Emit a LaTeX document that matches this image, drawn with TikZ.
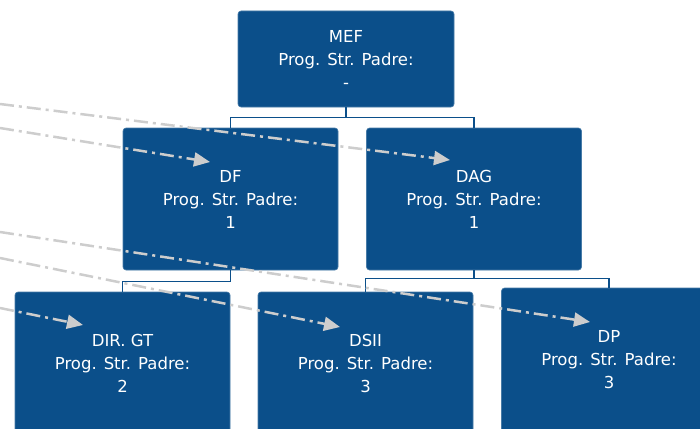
\documentclass[tikz,border=0pt]{standalone}
\usepackage{fontspec}
\setmainfont{DejaVu Sans}
\usetikzlibrary{arrows.meta}
\definecolor{boxblue}{RGB}{11,79,138}
\definecolor{linkgray}{RGB}{205,205,205}

\begin{document}
\begin{tikzpicture}[x=1pt,y=-1pt]

\tikzstyle{orgbox}=[shape=rectangle, rounded corners=3pt,
    draw=boxblue!75!white, line width=0.6pt, fill=boxblue,
    text=white, align=center, inner sep=0pt,
    minimum width=215pt, minimum height=142pt,
    font=\fontsize{16.5}{23}\selectfont]
\tikzstyle{tree}=[draw=boxblue, line width=1.5pt]
\tikzstyle{link}=[draw=linkgray, line width=2.5pt,
    dash pattern=on 14pt off 5pt on 3pt off 5pt,
    -{Triangle[length=16pt,width=14pt]}]

\useasboundingbox (0,0) rectangle (700,428);
\clip (0,0) rectangle (700,428);

  \node[orgbox, minimum width=216pt, minimum height=96pt] (MEF) at (346,59) {MEF\\Prog. Str. Padre:\\-};

  \node[orgbox] (DF) at (230.5,199) {DF\\Prog. Str. Padre:\\1};
  \node[orgbox] (DAG) at (474,199) {DAG\\Prog. Str. Padre:\\1};

  \node[orgbox] (DIRGT) at (122.5,363) {DIR. GT\\Prog. Str. Padre:\\2};
  \node[orgbox] (DSII) at (365.5,363) {DSII\\Prog. Str. Padre:\\3};
  \node[orgbox, minimum height=144pt] (DP) at (609,360) {DP\\Prog. Str. Padre:\\3};

  % tree
  \draw[tree] (MEF.south) -- ++(0,10) -| (DF.north);
  \draw[tree] (MEF.south) -- ++(0,10) -| (DAG.north);
  \draw[tree] (DF.south) -- ++(0,11) -| (DIRGT.north);
  \draw[tree] (DAG.south) -- ++(0,8) -| (DSII.north);
  \draw[tree] (DAG.south) -- ++(0,8) -| (DP.north);

  % links from outside
  \coordinate (srcA) at (0,104);
  \coordinate (srcB) at (0,128);
  \coordinate (srcC) at (0,232);
  \coordinate (srcD) at (0,258);
  \coordinate (srcE) at (0,308);

  \coordinate (tipDAG) at (450,160);
  \coordinate (tipDF) at (210,162);
  \coordinate (tipDP) at (590,322);
  \coordinate (tipDSII) at (340,327);
  \coordinate (tipDIRGT) at (83,325);

  \draw[link] (srcA) -- (tipDAG);
  \draw[link] (srcB) -- (tipDF);
  \draw[link] (srcC) -- (tipDP);
  \draw[link] (srcD) -- (tipDSII);
  \draw[link] (srcE) -- (tipDIRGT);

\end{tikzpicture}
\end{document}
